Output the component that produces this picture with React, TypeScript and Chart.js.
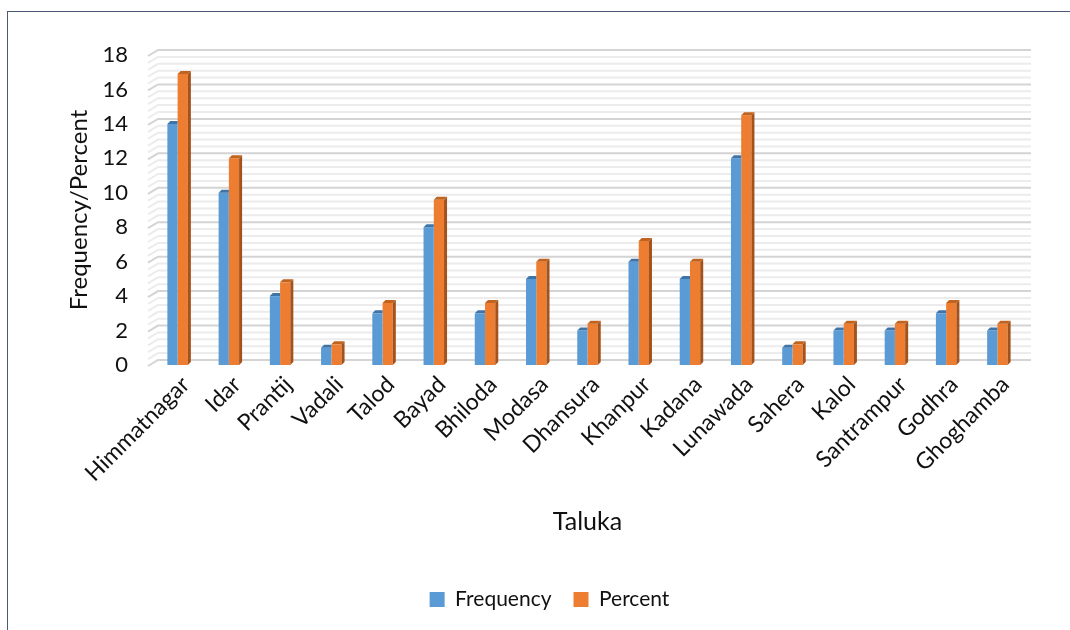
import React, { useEffect, useRef } from "react";
import { Chart, registerables } from "chart.js";

Chart.register(...registerables);

const categories = [
  "Himmatnagar", "Idar", "Prantij", "Vadali", "Talod", "Bayad", "Bhiloda", "Modasa",
  "Dhansura", "Khanpur", "Kadana", "Lunawada", "Sahera", "Kalol", "Santrampur", "Godhra", "Ghoghamba",
];
const frequency = [14, 10, 4, 1, 3, 8, 3, 5, 2, 6, 5, 12, 1, 2, 2, 3, 2];
const percent = [16.9, 12.0, 4.8, 1.2, 3.6, 9.6, 3.6, 6.0, 2.4, 7.2, 6.0, 14.5, 1.2, 2.4, 2.4, 3.6, 2.4];
const yMax = 18;
const majorStep = 2;
const minorStep = 0.4;

const FONT = "Lato, 'Open Sans', sans-serif";
const TEXT = "#111111";

const threeD = {
  id: "threeD",
  afterLayout(chart: any) {
    const lg = chart.legend;
    if (lg) {
      lg.left += 38;
      lg.right += 38;
    }
  },
  beforeDatasetsDraw(chart: any) {
    const { ctx, chartArea, scales } = chart;
    const y = scales.y;
    const backL = chartArea.left + 6;
    const backR = chartArea.right + 8;
    const frontL = chartArea.left - 4;
    const dy = 5;
    ctx.save();
    const n = Math.round(yMax / minorStep);
    for (let i = 0; i <= n; i++) {
      const v = i * minorStep;
      const p = y.getPixelForValue(v);
      const major = Math.abs(v / majorStep - Math.round(v / majorStep)) < 1e-6;
      ctx.strokeStyle = major ? "#d4d4d4" : "#ececec";
      ctx.lineWidth = 2;
      ctx.beginPath();
      ctx.moveTo(frontL, p + 1);
      ctx.lineTo(backL, p - dy);
      ctx.lineTo(backR, p - dy);
      ctx.stroke();
    }
    ctx.restore();
  },
  afterDatasetsDraw(chart: any) {
    const { ctx } = chart;
    const d = 3;
    const dy = 3;
    const tops = ["#3f74a8", "#c0631f"];
    const sides = ["#41719c", "#a4521b"];
    ctx.save();
    chart.data.datasets.forEach((ds: any, di: number) => {
      const meta = chart.getDatasetMeta(di);
      meta.data.forEach((bar: any) => {
        const { x, y, base, width } = bar.getProps(["x", "y", "base", "width"], true);
        const l = x - width / 2;
        const r = x + width / 2;
        if (di === 1) {
          ctx.fillStyle = sides[di];
          ctx.beginPath();
          ctx.moveTo(r, y);
          ctx.lineTo(r + d, y - dy);
          ctx.lineTo(r + d, base - dy);
          ctx.lineTo(r, base);
          ctx.closePath();
          ctx.fill();
          ctx.fillStyle = tops[di];
          ctx.beginPath();
          ctx.moveTo(l, y);
          ctx.lineTo(l + d, y - dy);
          ctx.lineTo(r + d, y - dy);
          ctx.lineTo(r, y);
          ctx.closePath();
          ctx.fill();
        } else {
          ctx.fillStyle = tops[di];
          ctx.beginPath();
          ctx.moveTo(l, y);
          ctx.lineTo(l + d, y - dy);
          ctx.lineTo(r, y - dy);
          ctx.lineTo(r, y);
          ctx.closePath();
          ctx.fill();
        }
      });
    });
    ctx.restore();
  },
};

export default function App() {
  const ref = useRef<HTMLCanvasElement>(null);
  useEffect(() => {
    const canvas = ref.current!;
    const chart = new Chart(canvas, {
      type: "bar",
      data: {
        labels: categories,
        datasets: [
          { label: "Frequency", data: frequency, backgroundColor: "#5b9bd5", borderWidth: 0 },
          { label: "Percent", data: percent, backgroundColor: "#ed7d31", borderWidth: 0 },
        ],
      },
      options: {
        animation: false,
        responsive: false,
        maintainAspectRatio: false,
        layout: { padding: { left: 0, right: 47, top: 55, bottom: 10 } },
        datasets: { bar: { categoryPercentage: 0.4, barPercentage: 1 } },
        plugins: {
          legend: {
            position: "bottom",
            labels: {
              font: { family: FONT, size: 21 },
              color: TEXT,
              boxWidth: 15,
              boxHeight: 15,
              padding: 22,
            },
          },
          tooltip: { enabled: false },
        },
        scales: {
          x: {
            grid: { display: false, drawTicks: false },
            border: { display: false },
            ticks: {
              font: { family: FONT, size: 23 },
              color: TEXT,
              minRotation: 45,
              maxRotation: 45,
              autoSkip: false,
              padding: 6,
              labelOffset: 8,
            },
            title: {
              display: true,
              text: "Taluka",
              font: { family: FONT, size: 25 },
              color: TEXT,
              padding: { top: 0, bottom: 30 },
            },
            afterFit(scale: any) {
              scale.height = 202;
            },
          },
          y: {
            min: 0,
            max: yMax,
            grid: { display: false, drawTicks: false },
            border: { display: false },
            ticks: {
              stepSize: majorStep,
              font: { family: FONT, size: 22 },
              color: TEXT,
              padding: 24,
            },
            title: {
              display: true,
              text: "Frequency/Percent",
              font: { family: FONT, size: 24 },
              color: TEXT,
              padding: { top: 65, bottom: 0 },
            },
            afterFit(scale: any) {
              scale.width = 152;
            },
          },
        },
      },
      plugins: [threeD],
    });
    return () => chart.destroy();
  }, []);

  return (
    <div style={{ position: "fixed", left: 0, top: 0, width: 1070, height: 630, background: "#fff", overflow: "hidden" }}>
      <div
        style={{
          position: "absolute",
          left: 7,
          top: 11,
          width: 1100,
          height: 700,
          border: "1.5px solid #4a5a78",
          boxSizing: "border-box",
        }}
      />
      <canvas ref={ref} width={1070} height={630} style={{ position: "absolute", left: 0, top: 0, width: 1070, height: 630 }} />
    </div>
  );
}
